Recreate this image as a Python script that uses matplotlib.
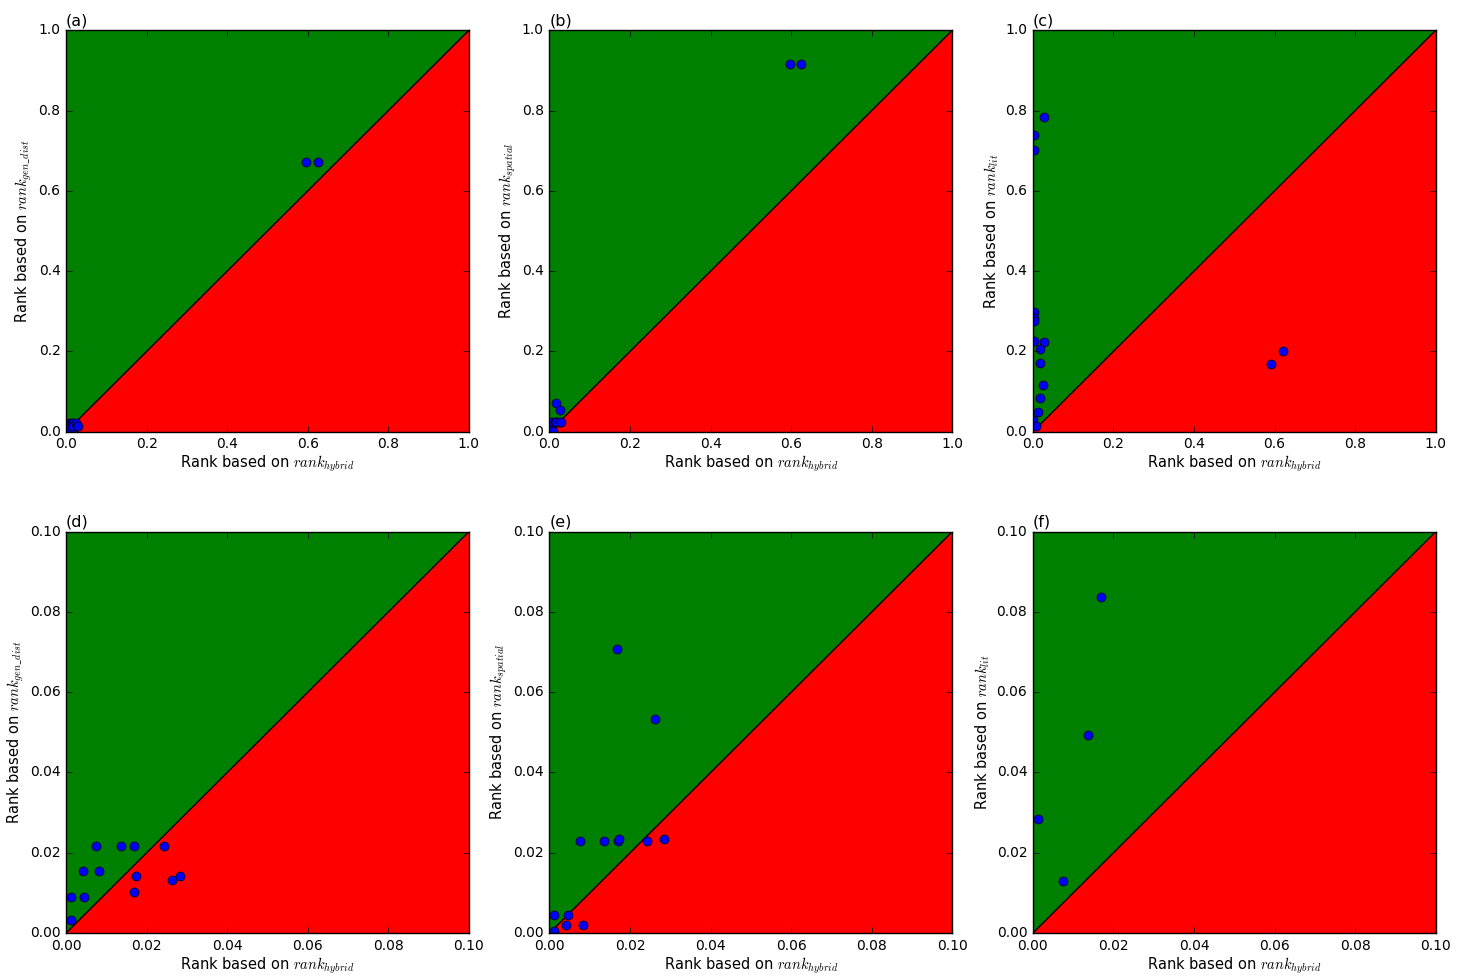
import matplotlib
matplotlib.use("Agg")
import matplotlib.pyplot as plt
import numpy as np

plt.style.use('classic')

# rank based on hybrid score (x) for the gen_dist and spatial comparisons
rank_hybrid = [0.0012, 0.0012, 0.0042, 0.0045, 0.0075, 0.0083, 0.0136,
               0.0168, 0.0169, 0.0173, 0.0242, 0.0262, 0.0284, 0.596, 0.625]
rank_gen_dist = [0.0032, 0.0091, 0.0155, 0.0091, 0.0217, 0.0155, 0.0217,
                 0.0217, 0.0102, 0.0141, 0.0217, 0.0131, 0.0141, 0.672, 0.672]
rank_spatial = [0.0006, 0.0045, 0.0021, 0.0045, 0.0230, 0.0021, 0.0230,
                0.0708, 0.0230, 0.0235, 0.0230, 0.0532, 0.0235, 0.915, 0.915]

# lit comparison
rank_hybrid_lit = [0.028, 0.003, 0.004, 0.002, 0.002, 0.002, 0.004, 0.027,
                   0.017, 0.017, 0.024, 0.0168, 0.0136, 0.0012, 0.0074,
                   0.592, 0.621]
rank_lit = [0.783, 0.739, 0.701, 0.298, 0.283, 0.275, 0.226, 0.223, 0.206,
            0.171, 0.117, 0.0837, 0.0493, 0.0284, 0.0130, 0.168, 0.202]

panels = [
    ('(a)', rank_hybrid, rank_gen_dist, r'$rank_{gen\_dist}$', 1.0),
    ('(b)', rank_hybrid, rank_spatial, r'$rank_{spatial}$', 1.0),
    ('(c)', rank_hybrid_lit, rank_lit, r'$rank_{lit}$', 1.0),
    ('(d)', rank_hybrid, rank_gen_dist, r'$rank_{gen\_dist}$', 0.1),
    ('(e)', rank_hybrid, rank_spatial, r'$rank_{spatial}$', 0.1),
    ('(f)', rank_hybrid_lit, rank_lit, r'$rank_{lit}$', 0.1),
]

fig, axes = plt.subplots(2, 3, figsize=(14.68, 9.76), dpi=100)
fig.subplots_adjust(left=0.045, right=0.978, bottom=0.044, top=0.969,
                    wspace=0.2, hspace=0.249)

for ax, (tag, xs, ys, ylab, lim) in zip(axes.flat, panels):
    ax.fill([0, 0, lim], [0, lim, lim], color='green', lw=0, zorder=0)
    ax.fill([0, lim, lim], [0, 0, lim], color='red', lw=0, zorder=0)
    ax.plot([0, lim], [0, lim], 'k-', lw=1.0, zorder=1)
    ax.plot(xs, ys, 'o', color='blue', mec='k', mew=0.5, ms=6.5, zorder=2)
    ax.set_xlim(0, lim)
    ax.set_ylim(0, lim)
    ax.tick_params(labelsize=10)
    ax.set_xlabel(r'Rank based on $rank_{hybrid}$', fontsize=10.5, labelpad=2)
    ax.set_ylabel('Rank based on ' + ylab, fontsize=10.5, labelpad=3)
    ax.text(0.0, 1.005, tag, transform=ax.transAxes, ha='left', va='bottom',
            fontsize=11.5)

fig.savefig('out.png', dpi=100, facecolor='white')
